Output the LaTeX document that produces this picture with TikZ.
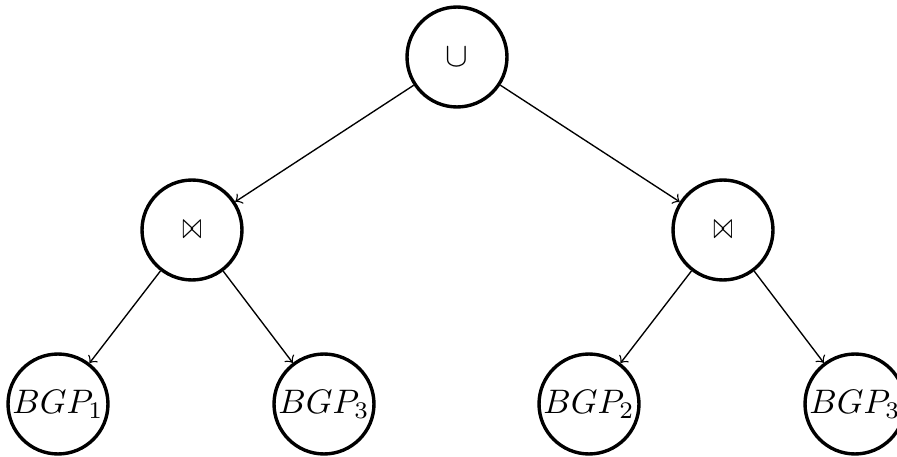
\documentclass[tikz,border=0pt]{standalone}
\usepackage{graphicx}
\begin{document}
\begin{tikzpicture}[x=0.2941pt, y=-0.2941pt,
    opnode/.style={circle, draw, line width=1pt, minimum size=29.4pt, inner sep=0pt},
    edge/.style={->, thin}]
  \useasboundingbox (0,0) rectangle (897,457);
  % operators
  \node[opnode] (u)  at (457,57)  {$\cup$};
  \node[opnode] (j1) at (192,230) {\scalebox{0.68}[1.1]{$\bowtie$}};
  \node[opnode] (j2) at (723,230) {\scalebox{0.68}[1.1]{$\bowtie$}};
  % basic graph patterns
  \node[opnode] (b1) at (58,404)  {$BGP_1$};
  \node[opnode] (b3) at (324,404) {$BGP_3$};
  \node[opnode] (b2) at (589,404) {$BGP_2$};
  \node[opnode] (b4) at (855,404) {$BGP_3$};
  % edges
  \draw[edge] (u) -- (j1);
  \draw[edge] (u) -- (j2);
  \draw[edge] (j1) -- (b1);
  \draw[edge] (j1) -- (b3);
  \draw[edge] (j2) -- (b2);
  \draw[edge] (j2) -- (b4);
\end{tikzpicture}
\end{document}
